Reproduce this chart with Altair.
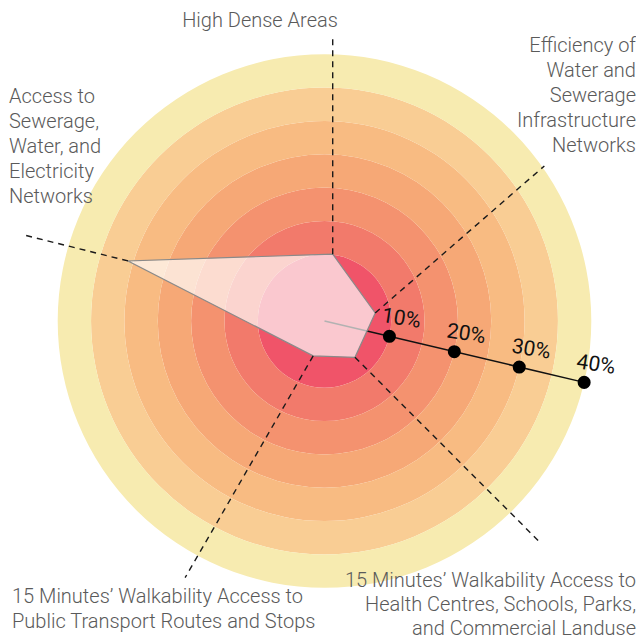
import altair as alt
import pandas as pd

# ---------------- data ----------------
axis_names = [
    "High Dense Areas",
    "Efficiency of Water and Sewerage Infrastructure Networks",
    "15 Minutes’ Walkability Access to Health Centres, Schools, Parks, and Commercial Landuse",
    "15 Minutes’ Walkability Access to Public Transport Routes and Stops",
    "Access to Sewerage, Water, and Electricity Networks",
]
axis_values = [10.1, 7.7, 7.1, 5.5, 30.8]          # percent
vertex_angles = [83, 9, -50, -108, 163]            # degrees, direction of each axis
guide_angles = [90, 41, -45, -120, 166]            # direction of the dashed leader
guide_lengths = [32.8, 33.6, 39.0, 38.4, 15.9]     # length of dashed leader (percent units)

label_texts = [
    "High Dense Areas",
    "Efficiency of\nWater and\nSewerage\nInfrastructure\nNetworks",
    "15 Minutes’ Walkability Access to\nHealth Centres, Schools, Parks,\nand Commercial Landuse",
    "15 Minutes’ Walkability Access to\nPublic Transport Routes and Stops",
    "Access to\nSewerage,\nWater, and\nElectricity\nNetworks",
]
label_align = ["center", "right", "right", "left", "left"]
label_x = [-9.67, 46.7, 46.7, -46.85, -47.3]
label_y = [46.48, 42.73, -37.48, -39.88, 35.08]
label_line_height = [25, 25, 24, 25, 25]

ring_outer = [10, 15, 20, 25, 30, 35, 40]
ring_inner = [0, 10, 15, 20, 25, 30, 35]
ring_colors = ["#F05469", "#F27A6B", "#F4926F", "#F6A876", "#F8BB82", "#F9CD94", "#F7EBB0"]

scale_ticks = [10, 20, 30, 40]
scale_labels = ["10%", "20%", "30%", "40%"]
scale_angle = -13.3

# ---------------- scales ----------------
PX = 6.67
W, H = 628, 634
cx_px, cy_px = 316.5, 313.0
xs = alt.Scale(domain=[-cx_px / PX, (W - cx_px) / PX], nice=False, zero=False)
ys = alt.Scale(domain=[-(H - cy_px) / PX, cy_px / PX], nice=False, zero=False)

def X(f):
    return alt.X(f, type="quantitative", scale=xs, axis=None)

def Y(f):
    return alt.Y(f, type="quantitative", scale=ys, axis=None)

# ---------------- rings ----------------
rings = pd.DataFrame({
    "ring": [str(r) for r in ring_outer],
    "ro": ring_outer, "ri": ring_inner, "cx": 0.0, "cy": 0.0,
})
ring_layer = alt.Chart(rings).mark_arc(theta=0, theta2=6.2832, stroke=None).encode(
    x=X("cx"), y=Y("cy"),
    radius=alt.Radius("ro:Q", scale=alt.Scale(type="linear", domain=[0, 40], range=[0, 40 * PX], zero=True)),
    radius2="ri:Q",
    color=alt.Color("ring:N", scale=alt.Scale(domain=[str(r) for r in ring_outer], range=ring_colors), legend=None),
)

# ---------------- scale axis ----------------
scale_line_df = pd.DataFrame({"r": [0, scale_ticks[-1]], "a": scale_angle, "k": [0, 1]})
scale_line = alt.Chart(scale_line_df).transform_calculate(
    px="datum.r*cos(datum.a*PI/180)", py="datum.r*sin(datum.a*PI/180)"
).mark_line(color="#111", strokeWidth=1.5).encode(x=X("px"), y=Y("py"), order="k:O")

ticks_df = pd.DataFrame({"r": scale_ticks, "lab": scale_labels, "a": scale_angle})
tick_base = alt.Chart(ticks_df).transform_calculate(
    px="datum.r*cos(datum.a*PI/180)", py="datum.r*sin(datum.a*PI/180)"
)
tick_dots = tick_base.mark_circle(size=170, color="#000", opacity=1).encode(x=X("px"), y=Y("py"))
tick_text = tick_base.mark_text(
    dx=9, dy=-19, angle=9, fontSize=21, font="Roboto", color="#111", align="center", baseline="middle"
).encode(x=X("px"), y=Y("py"), text="lab:N")

# ---------------- polygon ----------------
n = len(axis_names)
poly_df = pd.DataFrame({
    "i": list(range(n + 1)),
    "v": axis_values + axis_values[:1],
    "a": vertex_angles + vertex_angles[:1],
})
polygon = alt.Chart(poly_df).transform_calculate(
    px="datum.v*cos(datum.a*PI/180)", py="datum.v*sin(datum.a*PI/180)"
).mark_line(fill="#FFFFFF", fillOpacity=0.68, stroke="#8A8A8A", strokeWidth=1.2).encode(
    x=X("px"), y=Y("py"), order="i:Q"
)

# ---------------- dashed leaders ----------------
rows = []
for name, v, a, g, L in zip(axis_names, axis_values, vertex_angles, guide_angles, guide_lengths):
    for t in (0, 1):
        rows.append({"axis": name, "v": v, "a": a, "g": g, "L": L, "t": t})
lead_df = pd.DataFrame(rows)
leaders = alt.Chart(lead_df).transform_calculate(
    px="datum.v*cos(datum.a*PI/180) + datum.t*datum.L*cos(datum.g*PI/180)",
    py="datum.v*sin(datum.a*PI/180) + datum.t*datum.L*sin(datum.g*PI/180)",
).mark_line(color="#1A1A1A", strokeWidth=1.4, strokeDash=[6, 5]).encode(
    x=X("px"), y=Y("py"), detail="axis:N", order="t:O"
)

# ---------------- labels ----------------
lab_df = pd.DataFrame({"txt": label_texts, "al": label_align, "lx": label_x, "ly": label_y,
                       "idx": list(range(len(label_texts)))})
label_layers = []
for i, (al, lh) in enumerate(zip(label_align, label_line_height)):
    label_layers.append(
        alt.Chart(lab_df).transform_filter(alt.datum.idx == i).mark_text(
            align=al, baseline="top", lineBreak="\n", lineHeight=lh,
            fontSize=20, font="Roboto", fontWeight=300, color="#5A5A5A",
        ).encode(x=X("lx"), y=Y("ly"), text="txt:N")
    )

chart = alt.layer(
    ring_layer, scale_line, polygon, leaders, tick_dots, tick_text, *label_layers
).properties(
    width=W, height=H, padding=0, autosize=alt.AutoSizeParams(type="none"), background="white"
).configure_view(stroke=None)

chart.save("out.html", embed_options={"renderer": "svg", "actions": False})
